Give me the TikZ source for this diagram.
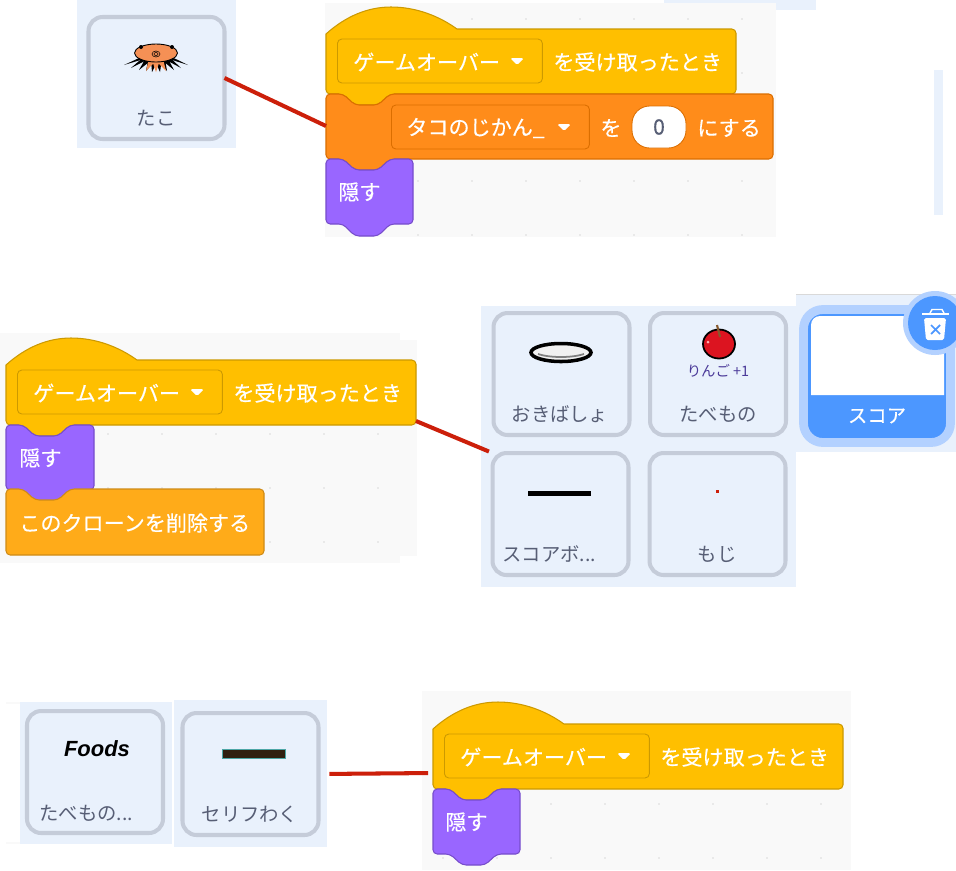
\documentclass[tikz,border=0pt]{standalone}
\usepackage{fontspec}
\usepackage{xcolor}
\setmainfont{Noto Sans CJK JP}
\newfontfamily\foodfont{Liberation Sans}
\newfontfamily\blockfont[FakeBold=0.35]{Noto Sans CJK JP}
\usetikzlibrary{shapes,positioning}

\definecolor{panelblue}{HTML}{E9F1FC}
\definecolor{workgray}{HTML}{F9F9F9}
\definecolor{dotgray}{HTML}{D9D9D9}
\definecolor{tileedge}{HTML}{C5CCD9}
\definecolor{tiletext}{HTML}{575E75}
\definecolor{hatfill}{HTML}{FFBF00}
\definecolor{hatedge}{HTML}{CC9900}
\definecolor{varfill}{HTML}{FF8C1A}
\definecolor{varedge}{HTML}{DB6E00}
\definecolor{lookfill}{HTML}{9966FF}
\definecolor{lookedge}{HTML}{774DCB}
\definecolor{ctrlfill}{HTML}{FFAB19}
\definecolor{ctrledge}{HTML}{CF8B17}
\definecolor{selblue}{HTML}{4C97FF}
\definecolor{selring}{HTML}{B3D1FF}
\definecolor{wirered}{HTML}{CC1F0A}
\definecolor{takofill}{HTML}{F59055}
\definecolor{applered}{HTML}{DC1420}
\definecolor{applefont}{HTML}{4B3A99}

\tikzset{
	x=0.02cm,y=-0.02cm,
	tilebox/.style={draw=tileedge,line width=2.3pt,rounded corners=8pt,fill=panelblue,
		minimum width=2.72cm,minimum height=2.44cm,inner sep=0pt,outer sep=0pt},
	tilelabel/.style={text=tiletext,font=\fontsize{11}{12}\selectfont,inner sep=0pt},
	blocktext/.style={text=white,font=\blockfont\fontsize{12}{13}\selectfont,inner sep=0pt,anchor=west},
	menubox/.style={rounded corners=2.5pt,line width=.5pt,minimum height=.88cm,inner sep=0pt,anchor=west},
	wire/.style={draw=wirered,line width=2.3pt},
	blockline/.style={line width=.6pt,rounded corners=2.4pt},
}

% band of a hat block, with its menu
\newcommand{\hatblock}[3]{
	\begin{scope}[shift={(#2,#3)}]
		\draw[line width=.6pt,fill=hatfill,draw=hatedge]
			(0,5) .. controls (20,-13) and (42,-22) .. (65,-22)
			.. controls (90,-22) and (113,-13) .. (131,0)
			[rounded corners=2.4pt] -- (410,0) -- (410,65) -- (64,65) -- (52,76) -- (29,76) -- (17,65) -- (0,65) -- (0,40) [sharp corners] -- cycle;
		\coordinate (#1 west) at (0,49);
		\coordinate (#1 east) at (410,61);
		\node[menubox,draw=hatedge,minimum width=4.1cm] (#1 menu) at (11,32) {};
		\node[blocktext] (#1 text) at (27,33) {ゲームオーバー};
		\fill[white,rounded corners=1pt] (184,29) -- (198,29) -- (191,36) -- cycle;
		\node[blocktext] (#1 when) at (227,33) {を受け取ったとき};
	\end{scope}
}
% stack block: name, x, y, width, colour, height of tab
\newcommand{\stackblock}[6]{
	\begin{scope}[shift={(#2,#3)}]
		\draw[blockline,fill=#5fill,draw=#5edge]
			(0,0) -- (17,0) -- (29,11) -- (52,11) -- (64,0) -- (#4,0) -- (#4,65) -- (64,65)
			-- (52,65+#6) -- (29,65+#6) -- (17,65) -- (0,65) -- cycle;
		\coordinate (#1) at (0,32);
	\end{scope}
}

\begin{document}
\begin{tikzpicture}
	\useasboundingbox (0,0) rectangle (956,870);
	%
	% panels behind the pictures
	\fill[panelblue] (77,0) rectangle (236,148);
	\fill[panelblue] (664,0) rectangle (816,10);
	\fill[panelblue] (934,70) rectangle (943,215);
	\fill[workgray] (325,3) rectangle (776,237);
	\fill[workgray] (0,333) rectangle (400,563);
	\fill[workgray] (400,340) rectangle (417,556);
	\fill[panelblue] (481,306) rectangle (796,587);
	\fill[panelblue] (796,295) rectangle (956,452);
	\draw[dotgray,line width=.6pt] (796,294.5) -- (956,294.5);
	\fill[panelblue] (20,702) rectangle (172,844);
	\fill[panelblue] (174,700) rectangle (327,847);
	\draw[workgray,line width=.6pt] (6,703) -- (20,703);
	\draw[workgray,line width=.6pt] (6,843) -- (20,843);
	\fill[workgray] (422,691) rectangle (851,870);
	%
	% grid dots
	\foreach \px in {418,472,526,580,634,688,742}
		\foreach \py in {19,73,127,181,235}
			\fill[dotgray] (\px,\py) circle (.9);
	\foreach \px in {108,162,216,270,324,378}
		\foreach \py in {434,488,542}
			\fill[dotgray] (\px,\py) circle (.9);
	\foreach \px in {443,497,551,605,659,713,767,821}
		\foreach \py in {858,804}
			\fill[dotgray] (\px,\py) circle (.9);
	%
	% first group
	\node[tilebox] (tako) at (156.5,78) {};
	\node[tilelabel] (takoL) at (156,118) {たこ};
	\foreach \ex/\ey in {124/65,131/68,139/70,146/71,152/72,160/72,167/71,174/70,181/68,188/65}
		\fill (\ex/3+100,57) -- (\ex/3+109,57) -- (\ex,\ey) -- cycle;
	\foreach \ex/\ey in {146/71,156/72,166/71}
		\fill[takofill] (\ex/3+100,60) -- (\ex/3+108,60) -- (\ex,\ey) -- cycle;
	\draw[line width=.5pt,fill=takofill] (156,53) ellipse (21.5 and 9);
	\fill (141,47) circle (2);
	\fill (172,47) circle (2);
	\draw[line width=.3pt] (156,54) ellipse (4 and 3);
	\draw[line width=.3pt] (156,54) ellipse (2 and 1.5);
	%
	\hatblock{hatA}{326}{29}
	\stackblock{setA}{326}{94}{447}{var}{11}
	\node[menubox,draw=varedge,minimum width=3.96cm] (setA menu) at (391,127) {};
	\node[blocktext] (setA text) at (406,128) {タコのじかん\_};
	\fill[white,rounded corners=1pt] (557,124) -- (571,124) -- (564,131) -- cycle;
	\node[blocktext] (setA to) at (600,128) {を};
	\node[draw=varedge,fill=white,line width=.5pt,rounded corners=10pt,minimum width=1.08cm,minimum height=.84cm,inner sep=0pt,
		text=tiletext,font=\blockfont\fontsize{12}{13}\selectfont] (setA num) at (659,127) {0};
	\node[blocktext] (setA do) at (697,128) {にする};
	\stackblock{hideA}{326}{159}{87}{look}{12}
	\node[blocktext] (hideA text) at (338,192) {隠す};
	%
	\draw[wire] (tako.east) -- (setA);
	%
	% second group
	\hatblock{hatB}{6}{360}
	\stackblock{hideB}{6}{425}{88}{look}{11}
	\node[blocktext] (hideB text) at (19,458) {隠す};
	\begin{scope}[shift={(6,489)}]
		\draw[blockline,fill=ctrlfill,draw=ctrledge]
			(0,0) -- (17,0) -- (29,11) -- (52,11) -- (64,0) -- (258,0) -- (258,66) -- (0,66) -- cycle;
	\end{scope}
	\node[blocktext] (cloneB) at (19,523) {このクローンを削除する};
	%
	\node[tilebox] (okiba) at (561.5,374) {};
	\node[tilelabel] (okibaL) at (560,414) {おきばしょ};
	\draw[line width=2pt,fill=white!88!gray] (561,352.5) ellipse (30 and 9);
	\draw[gray,line width=1pt] (538,354) .. controls (550,358) and (572,358) .. (584,354);
	%
	\node[tilebox] (food) at (718,374) {};
	\node[tilelabel] (foodL) at (718,414) {たべもの};
	\draw[line width=1pt,fill=applered] (719,344) ellipse (16 and 14.5);
	\draw[brown!70!black,line width=1.2pt] (717,325) -- (720,337);
	\fill[white!70!red] (708,342) circle (1.5);
	\node[inner sep=0pt,text=applefont,font=\fontsize{8.2}{9}\selectfont] (foodT) at (718,371) {りんご +1};
	%
	\node[tilebox] (board) at (560.5,514) {};
	\node[tilelabel,anchor=west] (boardL) at (502,554) {スコアボ...};
	\fill (528,490.5) rectangle (591,495.5);
	%
	\node[tilebox] (moji) at (717.5,514) {};
	\node[tilelabel] (mojiL) at (717,554) {もじ};
	\fill[wirered] (716,490) rectangle (719,493);
	%
	% selected sprite
	\node[draw=selring,line width=5pt,fill=selblue,rounded corners=11pt,minimum width=2.94cm,minimum height=2.66cm,inner sep=0pt] (score) at (877,376) {};
	\fill[white] (811,330) -- (811,325) arc[start angle=180,end angle=270,radius=9] -- (944,316) -- (944,395) -- (811,395) -- cycle;
	\node[text=white,inner sep=0pt,font=\blockfont\fontsize{11}{13}\selectfont] (scoreL) at (877,416) {スコア};
	\fill[selring] (935,323) circle (32);
	\fill[selblue] (935,323) circle (27);
	\fill[white,rounded corners=1pt] (924,318) -- (946,318) -- (944,340) -- (926,340) -- cycle;
	\draw[white,line width=1.1pt] (922,314) -- (949,314);
	\draw[white,line width=.8pt] (930,313) -- (932,309.5) -- (942,309.5) -- (944,313);
	\draw[selblue,line width=1pt] (931,325) -- (940,334) (940,325) -- (931,334);
	%
	\draw[wire,shorten >=2.2pt] (hatB east) -- (board.north west);
	%
	% third group
	\node[tilebox] (menu) at (95,772) {};
	\node[tilelabel,anchor=west] (menuL) at (39,813) {たべもの...};
	\node[inner sep=0pt,font=\foodfont\fontsize{12.5}{13}\selectfont\bfseries\itshape] (menuT) at (97,749) {Foods};
	%
	\node[tilebox] (serif) at (250.5,774) {};
	\node[tilelabel] (serifL) at (250,814) {セリフわく};
	\draw[fill=black!75!brown,draw=teal!70,line width=.4pt] (222,749) rectangle (285,758);
	%
	\hatblock{hatC}{433}{724}
	\stackblock{hideC}{433}{789}{87}{look}{11}
	\node[blocktext] (hideC text) at (445,822) {隠す};
	%
	\draw[wire,shorten <=6.2pt,shorten >=2.8pt] (serif.east) -- (hatC west);
\end{tikzpicture}
\end{document}
